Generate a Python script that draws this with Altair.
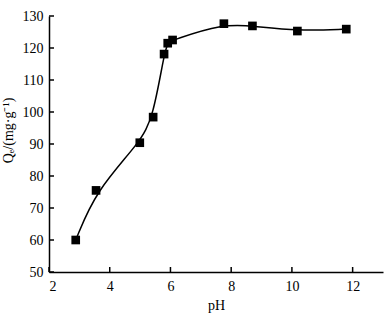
import altair as alt
import pandas as pd

ph = [2.88, 3.55, 4.99, 5.43, 5.79, 5.91, 6.07, 7.76, 8.70, 10.18, 11.79]
qe = [60.0, 75.5, 90.4, 98.4, 118.1, 121.5, 122.5, 127.6, 126.9, 125.3, 125.9]
x_ticks = [2, 4, 6, 8, 10, 12]
y_ticks = [50, 60, 70, 80, 90, 100, 110, 120, 130]

df = pd.DataFrame({"pH": ph, "Qe": qe})
xt = pd.DataFrame({"pH": x_ticks})
yt = pd.DataFrame({"Qe": y_ticks})

FONT = "Times New Roman, Liberation Serif, serif"
W, H = 334, 256
TICK = 5
xs = alt.Scale(domain=[2, 13], nice=False, zero=False)
ys = alt.Scale(domain=[50, 130], nice=False, zero=False)

x_main = alt.Axis(values=x_ticks, title="pH", tickSize=0, labelPadding=7, orient="bottom",
                  domainColor="black", domainWidth=1.5, grid=False,
                  labelFont=FONT, labelFontSize=14, labelColor="black",
                  titleFont=FONT, titleFontSize=14, titleFontWeight="normal",
                  titleColor="black", titlePadding=5)
y_main = alt.Axis(values=y_ticks, title="Qₑ/(mg·g⁻¹)", tickSize=0, labelPadding=6, orient="left",
                  domainColor="black", domainWidth=1.5, grid=False,
                  labelFont=FONT, labelFontSize=14, labelColor="black",
                  titleFont=FONT, titleFontSize=14, titleFontWeight="normal",
                  titleColor="black", titlePadding=7, titleY=114)

line = alt.Chart(df).mark_line(color="black", strokeWidth=1.5, interpolate="basis").encode(
    x=alt.X("pH:Q", scale=xs, axis=x_main),
    y=alt.Y("Qe:Q", scale=ys, axis=y_main),
)
pts = alt.Chart(df).mark_square(size=75, color="black", opacity=1).encode(
    x=alt.X("pH:Q", scale=xs, axis=x_main),
    y=alt.Y("Qe:Q", scale=ys, axis=y_main),
)
xtick_marks = alt.Chart(xt).mark_rule(color="black", strokeWidth=1.5).encode(
    x=alt.X("pH:Q", scale=xs, axis=x_main),
    y=alt.value(H - TICK), y2=alt.value(H),
)
ytick_marks = alt.Chart(yt).mark_rule(color="black", strokeWidth=1.5).encode(
    y=alt.Y("Qe:Q", scale=ys, axis=y_main),
    x=alt.value(0), x2=alt.value(TICK),
)

chart = alt.layer(line, pts, xtick_marks, ytick_marks).properties(
    width=W, height=H,
    autosize=alt.AutoSizeParams(type="none"),
    padding={"left": 49, "top": 16, "right": 5, "bottom": 47},
    background="white",
).configure_view(stroke=None)

chart.save("out.html", embed_options={"renderer": "svg", "actions": False})
